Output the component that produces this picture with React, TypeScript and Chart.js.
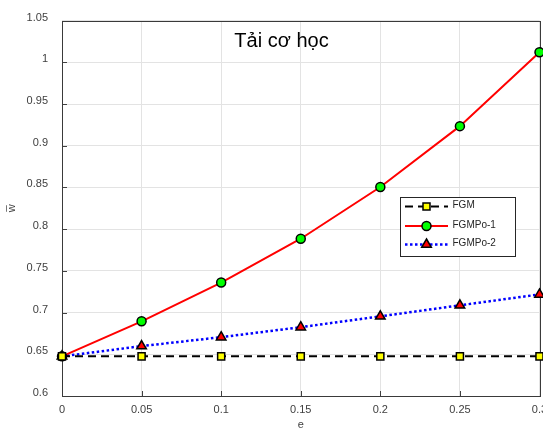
import React, { useEffect, useRef } from "react";
import { Chart, registerables } from "chart.js";

Chart.register(...registerables);

const eValues = [0, 0.05, 0.1, 0.15, 0.2, 0.25, 0.3];
const fgm = [0.6475, 0.6475, 0.6475, 0.6475, 0.6475, 0.6475, 0.6475];
const fgmpo1 = [0.6475, 0.6895, 0.736, 0.7885, 0.8505, 0.9235, 1.012];
const fgmpo2 = [0.6475, 0.6598, 0.6705, 0.6825, 0.6955, 0.7087, 0.7218];
const yTickValues = [0.6, 0.65, 0.7, 0.75, 0.8, 0.85, 0.9, 0.95, 1, 1.05];
const xTickValues = [0, 0.05, 0.1, 0.15, 0.2, 0.25, 0.3];
const seriesNames = ["FGM", "FGMPo-1", "FGMPo-2"];
const titleText = "Tải cơ học";

const FONT = "'Liberation Sans', Arial, sans-serif";

const toPts = (ys: number[]) => ys.map((y, i) => ({ x: eValues[i], y }));
const fmt = (v: number) => String(parseFloat(Number(v).toFixed(2)));

const decorPlugin = {
  id: "decor",
  beforeDatasetsDraw(chart: any) {
    const { ctx, chartArea, scales } = chart;
    const { left, right, top, bottom } = chartArea;
    ctx.save();
    ctx.strokeStyle = "#404040";
    ctx.lineWidth = 1;
    // inward ticks
    ctx.beginPath();
    yTickValues.forEach((v) => {
      const y = Math.round(scales.y.getPixelForValue(v)) + 0.5;
      ctx.moveTo(left, y);
      ctx.lineTo(left + 5, y);
    });
    xTickValues.forEach((v) => {
      const x = Math.round(scales.x.getPixelForValue(v)) + 0.5;
      ctx.moveTo(x, bottom);
      ctx.lineTo(x, bottom - 5);
    });
    ctx.stroke();
    ctx.strokeStyle = "#3a3a3a";
    ctx.strokeRect(Math.round(left) + 0.5, Math.round(top) + 0.5, Math.round(right - left), Math.round(bottom - top));
    // title
    ctx.fillStyle = "#000";
    ctx.font = `20px ${FONT}`;
    ctx.textAlign = "center";
    ctx.textBaseline = "alphabetic";
    ctx.fillText(titleText, 281.5, 47);
    ctx.restore();
  },
  afterDatasetsDraw(chart: any) {
    const { ctx } = chart;
    ctx.save();
    const bx = 400.5, by = 197.5, bw = 115, bh = 59;
    ctx.fillStyle = "#fff";
    ctx.fillRect(bx, by, bw, bh);
    ctx.strokeStyle = "#262626";
    ctx.lineWidth = 1;
    ctx.strokeRect(bx, by, bw, bh);
    const rows = [206.5, 226, 244.5];
    const x1 = 405, x2 = 448, mx = 426.5;
    // FGM
    ctx.strokeStyle = "#000";
    ctx.lineWidth = 2;
    ctx.setLineDash([8, 5]);
    ctx.beginPath();
    ctx.moveTo(x1, rows[0]);
    ctx.lineTo(x2, rows[0]);
    ctx.stroke();
    // FGMPo-1
    ctx.strokeStyle = "#ff0000";
    ctx.setLineDash([]);
    ctx.beginPath();
    ctx.moveTo(x1, rows[1]);
    ctx.lineTo(x2, rows[1]);
    ctx.stroke();
    // FGMPo-2
    ctx.strokeStyle = "#0000ff";
    ctx.lineWidth = 2.5;
    ctx.setLineDash([2.5, 2.5]);
    ctx.beginPath();
    ctx.moveTo(x1, rows[2]);
    ctx.lineTo(x2, rows[2]);
    ctx.stroke();
    ctx.setLineDash([]);
    ctx.lineWidth = 1.5;
    ctx.strokeStyle = "#000";
    // square
    ctx.fillStyle = "#ffff00";
    ctx.beginPath();
    ctx.rect(mx - 3.5, rows[0] - 3.5, 7, 7);
    ctx.fill();
    ctx.stroke();
    // circle
    ctx.fillStyle = "#00ff00";
    ctx.beginPath();
    ctx.arc(mx, rows[1], 4.5, 0, Math.PI * 2);
    ctx.fill();
    ctx.stroke();
    // triangle
    ctx.fillStyle = "#ff0000";
    ctx.beginPath();
    ctx.moveTo(mx, rows[2] - 5.5);
    ctx.lineTo(mx + 4.8, rows[2] + 2.8);
    ctx.lineTo(mx - 4.8, rows[2] + 2.8);
    ctx.closePath();
    ctx.fill();
    ctx.stroke();
    // labels
    ctx.fillStyle = "#262626";
    ctx.font = `10px ${FONT}`;
    ctx.textAlign = "left";
    ctx.textBaseline = "middle";
    seriesNames.forEach((n, i) => ctx.fillText(n, 452.5, rows[i] - 1));
    ctx.restore();
  },
};

export default function App() {
  const ref = useRef<HTMLCanvasElement | null>(null);
  useEffect(() => {
    if (!ref.current) return;
    const chart = new Chart(ref.current, {
      type: "line",
      data: {
        datasets: [
          {
            label: seriesNames[0],
            data: toPts(fgm),
            borderColor: "#000000",
            borderWidth: 2,
            borderDash: [8, 5],
            pointStyle: "rect",
            pointRadius: 5,
            pointBorderWidth: 1.5,
            pointBorderColor: "#000",
            pointBackgroundColor: "#ffff00",
            clip: false as any,
          },
          {
            label: seriesNames[1],
            data: toPts(fgmpo1),
            borderColor: "#ff0000",
            borderWidth: 2,
            tension: 0,
            pointStyle: "circle",
            pointRadius: 4.5,
            pointBorderWidth: 1.5,
            pointBorderColor: "#000",
            pointBackgroundColor: "#00ff00",
            clip: false as any,
          },
          {
            label: seriesNames[2],
            data: toPts(fgmpo2),
            borderColor: "#0000ff",
            borderWidth: 2.5,
            borderDash: [2.5, 2.5],
            pointStyle: "triangle",
            pointRadius: 5.5,
            pointBorderWidth: 1.5,
            pointBorderColor: "#000",
            pointBackgroundColor: "#ff0000",
            clip: false as any,
          },
        ],
      },
      options: {
        responsive: false,
        animation: false,
        layout: { autoPadding: false, padding: { left: 0, right: 3.5, top: 19, bottom: 0 } },
        plugins: { legend: { display: false }, tooltip: { enabled: false }, title: { display: false } },
        scales: {
          x: {
            type: "linear",
            min: 0,
            max: 0.3,
            afterBuildTicks: (s: any) => {
              s.ticks = xTickValues.map((v) => ({ value: v }));
            },
            afterFit: (s: any) => {
              s.height = 34;
              s.paddingLeft = 0;
              s.paddingRight = 0;
            },
            grid: { color: "#e3e3e3", drawTicks: false },
            border: { display: false },
            ticks: {
              padding: 7,
              color: "#404040",
              font: { family: FONT, size: 11 },
              maxRotation: 0,
              autoSkip: false,
              callback: (v: any) => fmt(v),
            },
            title: {
              display: true,
              text: "e",
              color: "#404040",
              font: { family: FONT, size: 11 },
              padding: { top: 0, bottom: -2 },
            },
          },
          y: {
            type: "linear",
            min: 0.6,
            max: 1.05,
            afterBuildTicks: (s: any) => {
              s.ticks = yTickValues.map((v) => ({ value: v }));
            },
            afterFit: (s: any) => {
              s.width = 62;
            },
            grid: { color: "#e3e3e3", drawTicks: false },
            border: { display: false },
            ticks: {
              padding: 14,
              labelOffset: -3,
              color: "#404040",
              font: { family: FONT, size: 11 },
              autoSkip: false,
              callback: (v: any) => fmt(v),
            },
            title: {
              display: true,
              text: "w\u0305",
              color: "#404040",
              font: { family: FONT, size: 11 },
              padding: { top: 5, bottom: 0 },
            },
          },
        },
      },
      plugins: [decorPlugin],
    });
    return () => chart.destroy();
  }, []);
  return (
    <div style={{ position: "fixed", left: 0, top: 0, width: 543, height: 430, overflow: "hidden", background: "#fff" }}>
      <canvas ref={ref} width={543} height={430} style={{ width: 543, height: 430, display: "block" }} />
    </div>
  );
}
